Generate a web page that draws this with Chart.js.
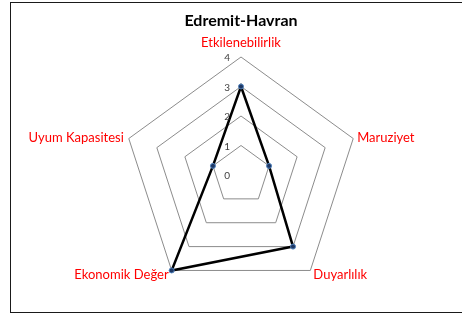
<!DOCTYPE html>
<html>
<head>
<meta charset="utf-8">
<script src="https://cdn.jsdelivr.net/npm/chart.js@4/dist/chart.umd.min.js"></script>
<style>
  html, body { margin: 0; padding: 0; background: #fff; }
  #wrap { width: 462px; height: 323px; position: relative; }
</style>
</head>
<body>
<div id="wrap"><canvas id="c" width="462" height="323"></canvas></div>
<script>
const chartTitle = "Edremit-Havran";
const categories = ["Etkilenebilirlik", "Maruziyet", "Duyarlılık", "Ekonomik Değer", "Uyum Kapasitesi"];
const seriesValues = [3, 1, 3, 4, 1];
const tickLabels = ["0", "1", "2", "3", "4"];

const frame = {
  id: 'frame',
  beforeDraw(chart) {
    const ctx = chart.ctx;
    ctx.save();
    ctx.fillStyle = '#fff';
    ctx.fillRect(0, 0, chart.width, chart.height);
    ctx.strokeStyle = '#1a1a1a';
    ctx.lineWidth = 1;
    ctx.strokeRect(10.5, 2.5, 480, 310);
    ctx.restore();
  }
};

const customLabels = {
  id: 'customLabels',
  afterDatasetsDraw(chart) {
    const s = chart.scales.r;
    const ctx = chart.ctx;
    ctx.save();
    ctx.fillStyle = '#404040';
    ctx.font = '10px Lato, "Open Sans", sans-serif';
    ctx.textAlign = 'right';
    ctx.textBaseline = 'middle';
    s.ticks.forEach((t, i) => {
      const d = s.getDistanceFromCenterForValue(t.value);
      ctx.fillText(tickLabels[i] !== undefined ? tickLabels[i] : t.label, s.xCenter - 11, s.yCenter - d + 1);
    });
    ctx.fillStyle = '#ff0000';
    ctx.font = '13px Lato, "Open Sans", sans-serif';
    categories.forEach((lab, i) => {
      const p = s.getPointPosition(i, s.drawingArea);
      let x = p.x, y = p.y;
      if (i === 0) { ctx.textAlign = 'center'; y -= 14; }
      else if (i === 1) { ctx.textAlign = 'left'; x += 4; y -= 1; }
      else if (i === 2) { ctx.textAlign = 'left'; x += 3; y += 4; }
      else if (i === 3) { ctx.textAlign = 'right'; x -= 3; y += 4; }
      else { ctx.textAlign = 'right'; x -= 5; y -= 1; }
      ctx.fillText(lab, x, y);
    });
    ctx.restore();
  }
};

new Chart(document.getElementById('c'), {
  type: 'radar',
  data: {
    labels: categories,
    datasets: [{
      data: seriesValues,
      borderColor: '#000',
      borderWidth: 2.5,
      backgroundColor: 'rgba(0,0,0,0)',
      fill: false,
      pointRadius: 2.5,
      pointBackgroundColor: '#1f3864',
      pointBorderColor: '#4f81bd',
      pointBorderWidth: 1,
      tension: 0
    }]
  },
  options: {
    responsive: false,
    animation: false,
    devicePixelRatio: 1,
    layout: { padding: { left: 123, right: 103, top: 0, bottom: 29.5 } },
    plugins: {
      legend: { display: false },
      tooltip: { enabled: false },
      title: {
        display: true,
        text: chartTitle,
        color: '#000',
        font: { family: 'Lato, "Open Sans", sans-serif', size: 16, weight: 'bold', lineHeight: 1.2 },
        padding: { top: 11, bottom: 27.3 }
      }
    },
    scales: {
      r: {
        min: 0,
        max: 4,
        ticks: { display: false, stepSize: 1 },
        pointLabels: { display: false },
        angleLines: { display: false },
        grid: { color: '#8c8c8c', lineWidth: 1, circular: false }
      }
    }
  },
  plugins: [frame, customLabels]
});
</script>
</body>
</html>
